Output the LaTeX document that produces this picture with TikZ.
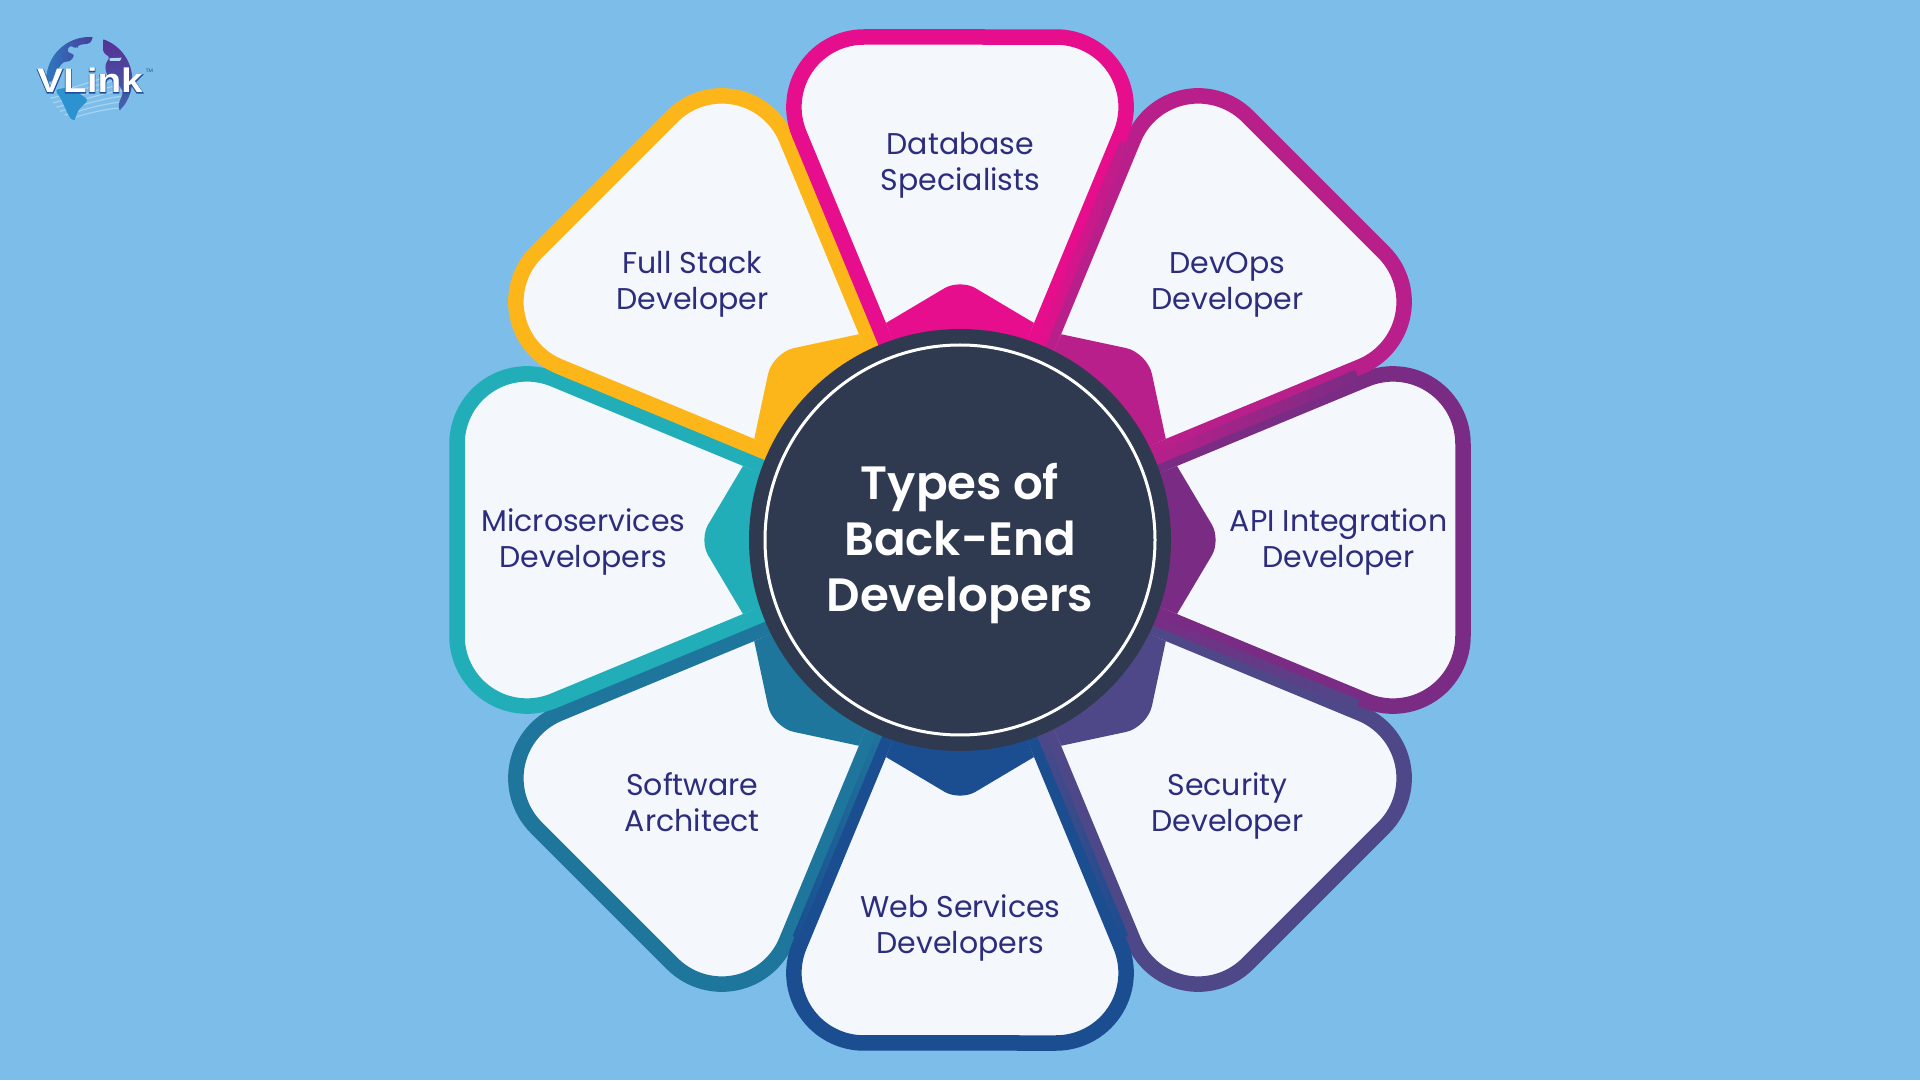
\documentclass[tikz,border=0pt]{standalone}
\usepackage{fontspec}
\setmainfont{Poppins}
\newfontfamily\titlefont{Poppins SemiBold}
\newfontfamily\logofont[FakeStretch=1.14]{Liberation Sans Bold}
\newfontfamily\logoback[FakeStretch=1.14,FakeBold=4]{Liberation Sans Bold}
\definecolor{bg}{HTML}{7DBDEA}
\definecolor{paper}{HTML}{F4F7FC}
\definecolor{hub}{HTML}{2F3A50}
\definecolor{ink}{HTML}{2D2D7E}
\definecolor{cDb}{HTML}{E60E8C}
\definecolor{cDev}{HTML}{B91F8A}
\definecolor{cApi}{HTML}{7A2C85}
\definecolor{cSec}{HTML}{4F4888}
\definecolor{cWeb}{HTML}{1A4E90}
\definecolor{cSoft}{HTML}{1F769D}
\definecolor{cMic}{HTML}{22AEB8}
\definecolor{cFull}{HTML}{FDB619}
\definecolor{lgBlue}{HTML}{2A80C4}
\definecolor{lgViolet}{HTML}{4A3A98}
\definecolor{lgSky}{HTML}{2C93D0}
\definecolor{lgPurple}{HTML}{5A2B90}
\definecolor{lgLow}{HTML}{3B6AB0}
\definecolor{lgLine}{HTML}{A6D3F0}
\definecolor{lgEdge}{HTML}{1F4F9A}
\tikzset{
  petalband/.style={draw=#1,fill=paper,line width=15.5pt,line join=round},
  label/.style={text=ink,align=center,inner sep=0pt,font=\fontsize{30}{36}\selectfont},
}
\begin{document}
\begin{tikzpicture}[x=1pt,y=1pt]
\useasboundingbox (0,0) rectangle (1920,1080);
\fill[bg] (0,0) rectangle (1920,1080);
% petals: rotation / colour, bottom of the stack first
\foreach \r/\c in {135/cSoft,-135/cSec,180/cWeb,90/cMic,-90/cApi,45/cFull,-45/cDev,0/cDb}{
  \begin{scope}[shift={(960,540)},rotate=\r]
    \path[petalband=\c] (0,18) -- (160.8,406.2) arc[start angle=-22.5,end angle=90,radius=70pt]
       -- (-96.1,503) arc[start angle=90,end angle=202.5,radius=70pt] -- cycle;
  \end{scope}
}
% soft seams between neighbouring bands
\foreach \a/\l/\rr/\w in {-22.5/cDb/cDev/5,-67.5/cDev/cApi/6,-112.5/cApi/cSec/5,-157.5/cSec/cWeb/4,157.5/cWeb/cSoft/3}{
  \begin{scope}[shift={(960,540)},rotate=\a]
    \shade[left color=\l,right color=\rr] (-\w,200) rectangle (\w,430);
  \end{scope}
}
% stars
\foreach \r/\c/\tip/\t in {135/cSoft/265/22,-135/cSec/265/22,180/cWeb/261/18,90/cMic/261/18,-90/cApi/261/18,45/cFull/265/22,-45/cDev/265/22,0/cDb/261/18}{
  \begin{scope}[shift={(960,540)},rotate=\r]
    \fill[\c] (0,30) -- (-74,217) [rounded corners=\t pt] -- (0,\tip) [sharp corners] -- (74,217) -- cycle;
  \end{scope}
}
% hub
\node[circle,fill=hub,minimum size=422pt,inner sep=0pt] (hub) at (960,540) {};
\node[circle,draw=white,line width=3pt,minimum size=390pt,inner sep=0pt] (ring) at (hub.center) {};
\node[text=white,align=center,inner sep=0pt,font=\titlefont\fontsize{46.7}{56}\selectfont] (title) at (960,536.5) {Types of\\Back-End\\Developers};
% labels
\node[label] (db)   at (960.4,915) {Database\\Specialists};
\node[label] (full) at (692.4,796) {Full Stack\\Developer};
\node[label] (dev)  at (1227.4,795.5) {DevOps\\Developer};
\node[label] (mic)  at (583.4,538) {Microservices\\Developers};
\node[label] (api)  at (1338.6,538) {API Integration\\Developer};
\node[label] (soft) at (692.4,278) {Software\\Architect};
\node[label] (sec)  at (1227.4,274) {Security\\Developer};
\node[label] (web)  at (960.4,152) {Web Services\\Developers};
% logo, in the coordinates of the zoomed crop
\begin{scope}[shift={(20,1055)},x=0.3333pt,y=-0.3333pt]
  \coordinate (gc) at (208,165);
  \begin{scope}
    \clip (gc) circle[radius=43pt];
    \foreach \k in {0,...,6}{
      \draw[lgLine,line width=1.2pt] (85,{205+\k*16}) .. controls (170,{190+\k*14}) and (260,{150+\k*16}) .. (330,{140+\k*18});
    }
    \shade[left color=lgBlue,right color=lgViolet,rounded corners=3pt] (60,170) -- (60,20) -- (225,15) -- (212,55) -- (175,60) -- (168,72) -- (150,60) -- (140,80) -- (165,90) -- (150,110) -- (130,110) -- (112,135) -- (100,170) -- cycle;
    \fill[lgSky,rounded corners=3pt] (105,195) -- (150,185) -- (205,225) -- (175,255) -- (160,295) -- (140,260) -- (125,225) -- cycle;
    \shade[top color=lgPurple,bottom color=lgLow,rounded corners=3pt] (250,20) -- (360,20) -- (360,280) -- (300,262) -- (295,240) -- (310,200) -- (290,170) -- (260,150) -- (255,120) -- (270,95) -- (250,85) -- cycle;
  \end{scope}
  \fill[bg!60!white] (268,100) -- (305,98) -- (300,108) -- (270,108) -- cycle;
  \node[text=lgEdge,inner sep=0pt,font=\logoback\fontsize{34}{34}\selectfont] (logoedge) at (210,167) {VLink};
  \node[text=white,inner sep=0pt,font=\logofont\fontsize{34}{34}\selectfont] (logotext) at (logoedge.center) {VLink};
  \node[text=lgEdge,inner sep=0pt,font=\fontsize{5}{5}\selectfont] (logotm) at (388,137) {TM};
\end{scope}
\end{tikzpicture}
\end{document}
